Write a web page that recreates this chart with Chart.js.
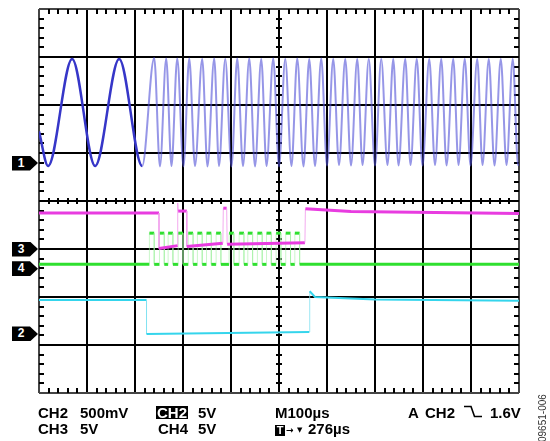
<!DOCTYPE html>
<html>
<head>
<meta charset="utf-8">
<script src="https://cdn.jsdelivr.net/npm/chart.js@4.4.1/dist/chart.umd.min.js"></script>
<style>
  html, body { margin: 0; padding: 0; background: #fff; }
  #wrap { position: relative; width: 550px; height: 441px; overflow: hidden; font-family: "Liberation Sans", Arial, sans-serif; }
  #scope { position: absolute; left: 0; top: 0; }
  .lbl { position: absolute; font-size: 15px; font-weight: bold; line-height: 15px; color: #000; white-space: pre; }
  .inv { background: #000; color: #fff; line-height: 13px; padding: 0 1px; }
  .tbox { position: absolute; width: 10px; height: 11px; background: #000; color: #fff; font: bold 11px "Liberation Sans", Arial, sans-serif; line-height: 11px; text-align: center; }
  .sym { position: absolute; font: bold 9px "DejaVu Sans", sans-serif; line-height: 9px; color: #000; }
  .mark { position: absolute; left: 12px; width: 26px; height: 15px; background: #000; color: #fff; font: bold 12px "Liberation Sans", Arial, sans-serif; line-height: 15px; clip-path: polygon(0 0, 69% 0, 100% 50%, 69% 100%, 0 100%); }
  .mark span { display: block; width: 18px; text-align: center; }
  #fig { position: absolute; left: 538px; top: 442px; transform: rotate(-90deg); transform-origin: 0 0; font: 10px "Liberation Sans", Arial, sans-serif; line-height: 10px; color: #333; white-space: nowrap; }
</style>
</head>
<body>
<div id="wrap">
  <canvas id="scope" width="550" height="441"></canvas>

  <span class="lbl" style="left:38px;top:405px">CH2</span>
  <span class="lbl" style="left:80px;top:405px">500mV</span>
  <span class="lbl inv" style="left:156px;top:406px">CH2</span>
  <span class="lbl" style="left:198px;top:405px">5V</span>
  <span class="lbl" style="left:275px;top:405px">M100µs</span>
  <span class="lbl" style="left:408px;top:405px">A</span>
  <span class="lbl" style="left:425px;top:405px">CH2</span>
  <svg style="position:absolute;left:464px;top:405px" width="19" height="13">
    <polyline points="0,1.5 7,1.5 10.5,11.5 18,11.5" fill="none" stroke="#000" stroke-width="1.6"/>
  </svg>
  <span class="lbl" style="left:490px;top:405px">1.6V</span>

  <span class="lbl" style="left:38px;top:420.5px">CH3</span>
  <span class="lbl" style="left:80px;top:420.5px">5V</span>
  <span class="lbl" style="left:158px;top:420.5px">CH4</span>
  <span class="lbl" style="left:198px;top:420.5px">5V</span>
  <span class="tbox" style="left:275px;top:425px">T</span>
  <span class="sym" style="left:286px;top:426px">→</span>
  <span class="sym" style="left:297px;top:426px;font-size:7px">▼</span>
  <span class="lbl" style="left:308px;top:420.5px">276µs</span>

  <div id="fig">09651-006</div>
</div>

<script>
// Time axis in divisions (100us/div), volts in divisions from screen centre

// CH2 500mV sine burst (trace 1) - peaks and troughs
const ch1Time = [0, 0.19, 0.69, 1.17, 1.67, 2.15,
  2.40, 2.52, 2.65, 2.76, 2.88, 3.01, 3.13, 3.25, 3.40, 3.51,
  3.65, 3.75, 3.88, 4.01, 4.13, 4.25, 4.38, 4.50, 4.63, 4.74,
  4.88, 5.00, 5.13, 5.26, 5.38, 5.51, 5.63, 5.75, 5.88, 6.00,
  6.13, 6.25, 6.38, 6.50, 6.63, 6.74, 6.87, 7.00, 7.13, 7.26,
  7.38, 7.49, 7.63, 7.74, 7.87, 7.99, 8.13, 8.25, 8.38, 8.49,
  8.63, 8.74, 8.87, 8.99, 9.13, 9.24, 9.37, 9.49, 9.62, 9.74,
  9.87, 9.98, 10];
const ch1Volt = [1.45, 0.73, 2.96, 0.73, 2.96, 0.73,
  2.98, 0.72, 2.97, 0.73, 2.97, 0.72, 2.97, 0.73, 2.96, 0.72,
  2.97, 0.73, 2.96, 0.72, 2.97, 0.73, 2.97, 0.72, 2.96, 0.73,
  2.97, 0.72, 2.96, 0.73, 2.97, 0.72, 2.96, 0.73, 2.97, 0.74,
  2.96, 0.75, 2.96, 0.74, 2.96, 0.75, 2.96, 0.74, 2.96, 0.75,
  2.96, 0.74, 2.96, 0.75, 2.96, 0.74, 2.96, 0.75, 2.96, 0.74,
  2.96, 0.75, 2.96, 0.74, 2.96, 0.75, 2.96, 0.74, 2.96, 0.75,
  2.96, 0.75, 0.78];
const ch1FastFrom = 2.15;

// CH3 5V data line (trace 3)
const ch3Time = [0, 2.50, 2.50, 2.89, 2.89, 2.90, 3.08, 3.08, 3.83, 3.84, 3.91, 3.92, 5.54, 5.55, 6.5, 10];
const ch3Volt = [-0.25, -0.25, -0.99, -0.93, -0.04, -0.21, -0.21, -0.95, -0.88, -0.15, -0.15, -0.90, -0.87, -0.16, -0.22, -0.26];

// CH4 5V clock (trace 4)
const ch4Rise = [2.30, 2.51, 2.69, 2.90, 3.11, 3.30, 3.49, 3.69, 3.96, 4.17, 4.35, 4.55, 4.74, 4.94, 5.14, 5.33];
const ch4Fall = [2.40, 2.61, 2.79, 3.00, 3.21, 3.40, 3.59, 3.79, 4.06, 4.27, 4.45, 4.65, 4.84, 5.04, 5.24, 5.43];
const ch4Low = -1.32;
const ch4High = -0.67;

// CH2 5V chip select (trace 2)
const ch2Time = [0, 2.24, 2.24, 5.63, 5.64, 5.75, 7.0, 10];
const ch2Volt = [-2.06, -2.06, -2.77, -2.73, -1.88, -2.0, -2.05, -2.08];

// ground markers on the left
const markerNames = ['1', '3', '4', '2'];
const markerLevels = [0.79, -1.0, -1.41, -2.77];

const toPts = (xs, ys) => xs.map((x, i) => ({ x: x, y: ys[i] }));

const clkPts = [{ x: 0, y: ch4Low }];
ch4Rise.forEach((r, i) => {
  clkPts.push({ x: r, y: ch4Low }, { x: r, y: ch4High },
              { x: ch4Fall[i], y: ch4High }, { x: ch4Fall[i], y: ch4Low });
});
clkPts.push({ x: 10, y: ch4Low });

// fast edges show up faint on the scope screen
const isEdge = c => Math.abs(c.p1.parsed.x - c.p0.parsed.x) < 0.03;

// minor ticks on the frame and on the centre cross
const graticule = {
  id: 'graticule',
  beforeDatasetsDraw(chart) {
    const { ctx, chartArea: a, scales: { x, y } } = chart;
    const xc = Math.round(x.getPixelForValue(5));
    const yc = Math.round(y.getPixelForValue(0));
    ctx.save();
    ctx.fillStyle = '#000';
    for (let i = 1; i < 50; i++) {
      if (i % 5 === 0) continue;
      const px = Math.round(x.getPixelForValue(i / 5));
      ctx.fillRect(px - 1, a.top, 2, 5);
      ctx.fillRect(px - 1, a.bottom - 5, 2, 5);
      ctx.fillRect(px - 1, yc - 3, 2, 6);
    }
    for (let i = -19; i < 20; i++) {
      if (i % 5 === 0) continue;
      const py = Math.round(y.getPixelForValue(i / 5));
      ctx.fillRect(a.left, py - 1, 5, 2);
      ctx.fillRect(a.right - 5, py - 1, 5, 2);
      ctx.fillRect(xc - 3, py - 1, 6, 2);
    }
    ctx.restore();
  }
};

const edgeColor = (c, lo, hi) => (c.tick && (c.tick.value === lo || c.tick.value === hi)) ? '#444' : '#000';

const chart = new Chart(document.getElementById('scope'), {
  type: 'line',
  data: {
    datasets: [
      {
        label: 'CH3',
        data: toPts(ch3Time, ch3Volt),
        borderColor: '#e83ce0',
        borderWidth: 3,
        pointRadius: 0,
        order: 1,
        segment: {
          borderColor: c => isEdge(c) ? 'rgba(240,150,235,0.8)' : undefined,
          borderWidth: c => isEdge(c) ? 1 : undefined
        }
      },
      {
        label: 'CH4',
        data: clkPts,
        borderColor: '#2fe02f',
        borderWidth: 3,
        pointRadius: 0,
        order: 2,
        segment: {
          borderColor: c => isEdge(c) ? 'rgba(160,240,160,0.55)' : undefined,
          borderWidth: c => isEdge(c) ? 1 : undefined
        }
      },
      {
        label: 'CH2 5V',
        data: toPts(ch2Time, ch2Volt),
        borderColor: '#35d5ec',
        borderWidth: 2,
        pointRadius: 0,
        order: 3,
        segment: {
          borderColor: c => isEdge(c) ? 'rgba(130,225,240,0.8)' : undefined,
          borderWidth: c => isEdge(c) ? 1 : undefined
        }
      },
      {
        label: 'CH2 500mV',
        data: toPts(ch1Time, ch1Volt),
        borderColor: '#3636c8',
        borderWidth: 2.5,
        pointRadius: 0,
        cubicInterpolationMode: 'monotone',
        order: 4,
        segment: {
          borderColor: c => c.p0.parsed.x >= ch1FastFrom ? 'rgba(80,80,215,0.6)' : undefined,
          borderWidth: c => c.p0.parsed.x >= ch1FastFrom ? 2 : undefined
        }
      }
    ]
  },
  options: {
    responsive: false,
    animation: false,
    devicePixelRatio: 1,
    layout: { padding: { left: 39, top: 9, right: 31, bottom: 48 } },
    plugins: { legend: { display: false }, tooltip: { enabled: false } },
    scales: {
      x: {
        type: 'linear', min: 0, max: 10,
        ticks: { display: false, stepSize: 1 },
        grid: { drawTicks: false, lineWidth: 2, color: c => edgeColor(c, 0, 10) },
        border: { display: false }
      },
      y: {
        type: 'linear', min: -4, max: 4,
        ticks: { display: false, stepSize: 1 },
        grid: { drawTicks: false, lineWidth: 2, color: c => edgeColor(c, -4, 4) },
        border: { display: false }
      }
    }
  },
  plugins: [graticule]
});

const wrap = document.getElementById('wrap');
markerNames.forEach((n, i) => {
  const d = document.createElement('div');
  d.className = 'mark';
  d.style.top = (chart.scales.y.getPixelForValue(markerLevels[i]) - 7.5) + 'px';
  d.innerHTML = '<span>' + n + '</span>';
  wrap.appendChild(d);
});
</script>
</body>
</html>
